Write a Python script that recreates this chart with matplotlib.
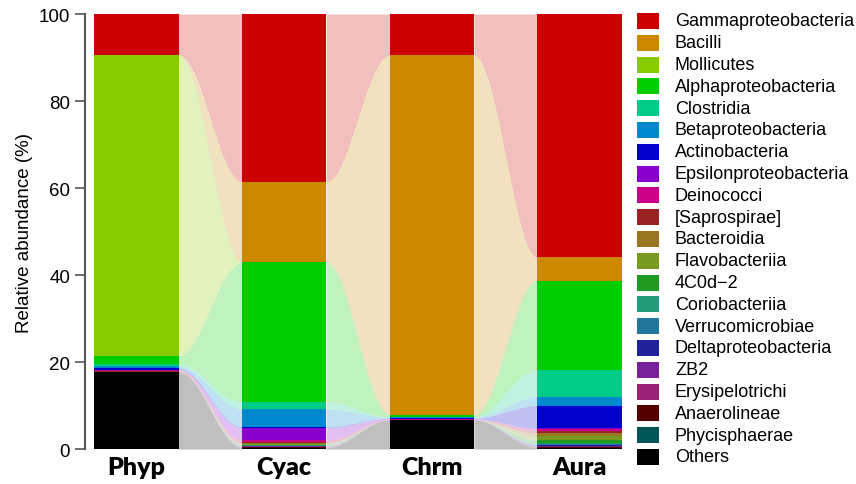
import numpy as np
import matplotlib.pyplot as plt
from matplotlib.patches import Rectangle

plt.rcParams['font.family'] = ['Liberation Sans', 'DejaVu Sans']

samples = ['Phyp', 'Cyac', 'Chrm', 'Aura']

# taxa from top of stack to bottom (legend order)
taxa = ['Gammaproteobacteria', 'Bacilli', 'Mollicutes', 'Alphaproteobacteria',
        'Clostridia', 'Betaproteobacteria', 'Actinobacteria', 'Epsilonproteobacteria',
        'Deinococci', '[Saprospirae]', 'Bacteroidia', 'Flavobacteriia', '4C0d\u22122',
        'Coriobacteriia', 'Verrucomicrobiae', 'Deltaproteobacteria', 'ZB2',
        'Erysipelotrichi', 'Anaerolineae', 'Phycisphaerae', 'Others']

colors = ['#CC0000', '#CC8800', '#88CC00', '#00CC00', '#00CC88', '#0088CC',
          '#0000CC', '#8800CC', '#CC0088', '#992222', '#997722', '#779922',
          '#229922', '#229977', '#227799', '#222299', '#772299', '#992277',
          '#550000', '#005555', '#000000']

# relative abundance (%) per sample, same order as taxa
phyp = [9.4, 0.1, 69.0, 2.0, 0.5, 0.4, 0.4, 0.1, 0.1, 0.2, 0.05, 0.05,
        0, 0, 0, 0, 0, 0, 0, 0, 17.7]
cyac = [38.5, 18.5, 0.1, 32.1, 1.6, 4.1, 0.3, 2.7, 0.5, 0.2, 0.2, 0.2,
        0.1, 0.1, 0.1, 0.1, 0.1, 0.1, 0.05, 0.05, 0.3]
chrm = [9.5, 82.6, 0, 0.5, 0.1, 0.2, 0.1, 0.2, 0.05, 0.05, 0, 0,
        0, 0, 0, 0, 0, 0, 0, 0, 6.7]
aura = [55.9, 5.4, 0, 20.5, 6.2, 2.0, 5.25, 0.05, 0.5, 0.5, 0.8, 0.9,
        0.6, 0.3, 0.2, 0.3, 0.1, 0.1, 0.05, 0.05, 0.3]

data = np.array([phyp, cyac, chrm, aura])  # samples x taxa
data = data[:, ::-1]                      # bottom of stack first
cols = colors[::-1]

fig = plt.figure(figsize=(8.56, 4.85), dpi=100)
ax = fig.add_axes([0.099, 0.072, 0.628, 0.897])

xpos = np.arange(len(samples))
w = 0.57
bottoms = np.vstack([np.zeros(len(samples)), np.cumsum(data, axis=1)[:, :-1].T]).T
tops = bottoms + data

for k in range(data.shape[1]):
    ax.bar(xpos, data[:, k], bottom=bottoms[:, k], width=w, color=cols[k],
           linewidth=0)
    # flowing ribbons between neighbouring bars
    for j in range(len(samples) - 1):
        x0, x1 = xpos[j] + w / 2, xpos[j + 1] - w / 2
        t = np.linspace(0, 1, 60)
        s = 0.5 - 0.5 * np.cos(np.pi * t)
        xx = x0 + (x1 - x0) * t
        lo = bottoms[j, k] + (bottoms[j + 1, k] - bottoms[j, k]) * s
        hi = tops[j, k] + (tops[j + 1, k] - tops[j, k]) * s
        ax.fill_between(xx, lo, hi, color=cols[k], alpha=0.25, linewidth=0)

ax.set_xlim(-0.35, 3.29)
ax.set_ylim(0, 100)
ax.set_xticks(xpos)
ax.set_xticklabels(samples, fontsize=18, fontweight='heavy', family='Lato')
ax.tick_params(axis='x', length=0, pad=5)
ax.set_yticks([0, 20, 40, 60, 80, 100])
ax.tick_params(axis='y', labelsize=13.5, length=7, width=1.2, color='#555555')
ax.set_ylabel('Relative abundance (%)', fontsize=13.5)
for side in ['top', 'right', 'bottom']:
    ax.spines[side].set_visible(False)
ax.spines['left'].set_color('#555555')
ax.spines['left'].set_linewidth(1.5)

# legend drawn in pixel coordinates
lax = fig.add_axes([0, 0, 1, 1])
lax.set_xlim(0, 856)
lax.set_ylim(485, 0)
lax.axis('off')
for i, (name, c) in enumerate(zip(taxa, colors)):
    yc = 22 + i * 21.8
    lax.add_patch(Rectangle((637, yc - 8), 22, 16, facecolor=c, edgecolor='none'))
    lax.text(675, yc, name, fontsize=13, va='center', ha='left')

fig.savefig('out.png', dpi=100)
